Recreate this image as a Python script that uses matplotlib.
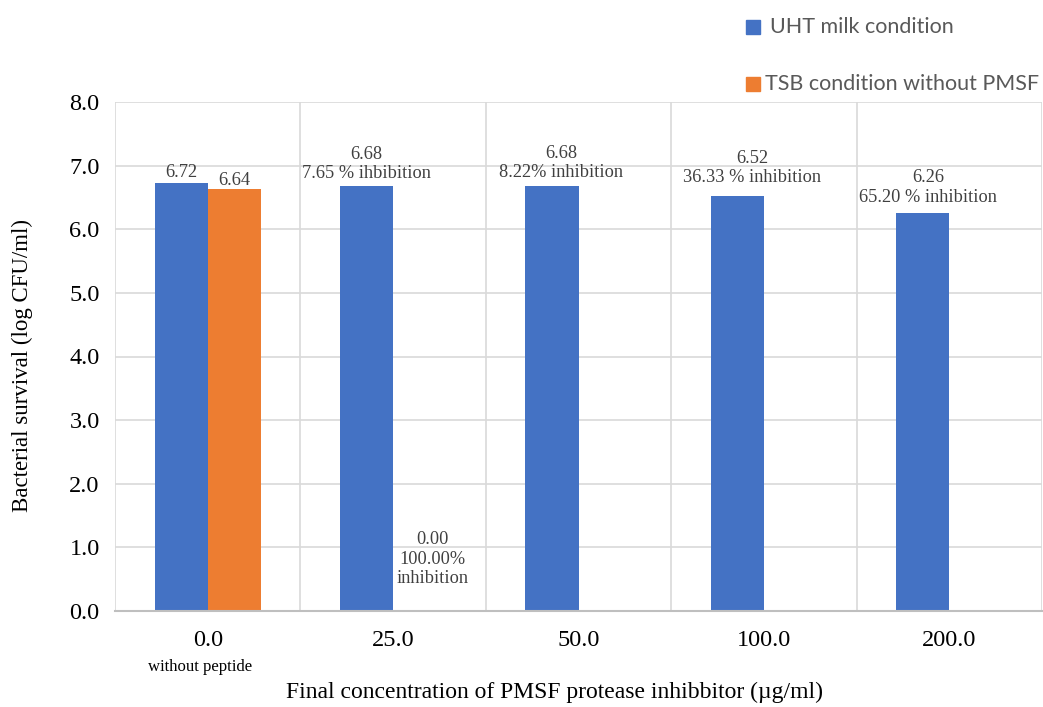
import matplotlib
matplotlib.use("Agg")
import matplotlib.pyplot as plt
import numpy as np
from matplotlib.patches import Rectangle

# Data
categories = ["0.0", "25.0", "50.0", "100.0", "200.0"]
uht_values = [6.72, 6.68, 6.68, 6.52, 6.26]
tsb_values = [6.64, 0.00, np.nan, np.nan, np.nan]
uht_notes = ["", "7.65 % ihbibition", "8.22% inhibition", "36.33 % inhibition", "65.20 % inhibition"]
tsb_notes = ["", "100.00%\ninhibition", "", "", ""]
y_ticks = [0.0, 1.0, 2.0, 3.0, 4.0, 5.0, 6.0, 7.0, 8.0]

BLUE = "#4472C4"
ORANGE = "#ED7D31"
GRID = "#D9D9D9"
LABEL = "#404040"
SERIF = ["Liberation Serif", "DejaVu Serif"]

W, H = 1043, 707
fig = plt.figure(figsize=(W / 100, H / 100), dpi=100)
ax = fig.add_axes([115 / W, 1 - 611 / H, (1042 - 115) / W, (611 - 102) / H])

x = np.arange(len(categories))
bw = 0.286
ax.bar(x - bw / 2, uht_values, bw, color=BLUE, zorder=3)
ax.bar(x + bw / 2, tsb_values, bw, color=ORANGE, zorder=3)

ax.set_xlim(-0.5, len(categories) - 0.5)
ax.set_ylim(0, 8)
ax.set_yticks(y_ticks)
ax.set_yticklabels([f"{v:.1f}" for v in y_ticks], fontfamily=SERIF, fontsize=17.5)
ax.set_xticks(x)
ax.set_xticklabels(categories, fontfamily=SERIF, fontsize=17.5)
ax.tick_params(axis="y", length=0, pad=11)
ax.tick_params(axis="x", length=0, pad=14)

# Grid: horizontal at ticks, vertical at category boundaries
for yv in y_ticks[1:]:
    ax.axhline(yv, color=GRID, lw=1.2, zorder=1)
for xv in np.arange(-0.5, len(categories), 1.0):
    ax.axvline(xv, color=GRID, lw=1.2, zorder=1)
for s in ["top", "right", "left"]:
    ax.spines[s].set_visible(False)
ax.spines["bottom"].set_color("#BFBFBF")
ax.spines["bottom"].set_linewidth(1.5)
ax.spines["bottom"].set_zorder(4)

# Value labels
def note(xv, yv, text, dx, dy):
    ax.annotate(text, xy=(xv, yv), xytext=(dx, dy), textcoords="offset pixels",
                ha="center", va="center", fontfamily=SERIF, fontsize=13.2,
                color=LABEL, linespacing=1.2, zorder=5)

note(x[0] - bw / 2, uht_values[0], f"{uht_values[0]:.2f}", 0, 11)
note(x[0] + bw / 2, tsb_values[0], f"{tsb_values[0]:.2f}", 0, 8)
offsets = [None, (0, 22), (9, 23), (15, 28), (5, 25)]
for i in range(1, len(categories)):
    dx, dy = offsets[i]
    note(x[i] - bw / 2, uht_values[i], f"{uht_values[i]:.2f}\n{uht_notes[i]}", dx, dy)
note(x[1] + bw / 2, tsb_values[1], f"{tsb_values[1]:.2f}\n{tsb_notes[1]}", 13, 52)

# Secondary caption under the first category
fig.text(200 / W, 1 - 667 / H, "without peptide", ha="center", va="center",
         fontfamily=SERIF, fontsize=12)

ax.set_ylabel("Bacterial survival (log CFU/ml)", fontfamily=SERIF, fontsize=16.5)
fig.text(555 / W, 1 - 692 / H, "Final concentration of PMSF protease inhibbitor (µg/ml)",
         ha="center", va="center", fontfamily=SERIF, fontsize=17)
ax.yaxis.set_label_coords(-(115 - 22) / (1042 - 115), (611 - 365) / (611 - 102))
ax.yaxis.label.set_va("center")

# Legend
legend_items = [(BLUE, "UHT milk condition", 27, 770), (ORANGE, "TSB condition without PMSF", 84, 765)]
for color, label, yc, xt in legend_items:
    fig.patches.append(Rectangle((746 / W, 1 - (yc + 7) / H), 14 / W, 14 / H,
                                 transform=fig.transFigure, color=color))
    fig.text(xt / W, 1 - yc / H, label, ha="left", va="center",
             fontfamily=["Lato", "DejaVu Sans"], fontsize=15.5, color="#595959")

fig.savefig("out.png", dpi=100)
